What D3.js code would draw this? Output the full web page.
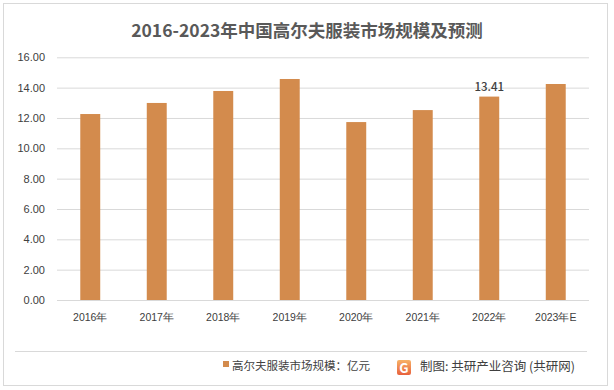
<!DOCTYPE html>
<html><head><meta charset="utf-8">
<script src="https://cdn.jsdelivr.net/npm/d3@7"></script>
<style>body{margin:0;background:#fff;} svg{display:block;font-family:"Noto Sans CJK SC","Noto Sans",sans-serif;}</style>
</head><body>
<svg id="c" width="614" height="390"></svg>
<script>
const categories = ["2016年","2017年","2018年","2019年","2020年","2021年","2022年","2023年E"];
const values = [12.26, 12.99, 13.78, 14.57, 11.73, 12.52, 13.41, 14.24];
const yTicks = [0,2,4,6,8,10,12,14,16];
const labeledIndex = [6];
const title = "2016-2023年中国高尔夫服装市场规模及预测";
const legendLabel = "高尔夫服装市场规模：亿元";
const sourceLabel = "制图: 共研产业咨询 (共研网)";

const svg = d3.select("#c");
const x = d3.scaleBand().domain(categories).range([57, 589]).paddingInner(0.7).paddingOuter(0.35);
const y = d3.scaleLinear().domain([0,16]).range([300, 57.3]);

// frame
svg.append("rect").attr("x",3.5).attr("y",3.5).attr("width",604).attr("height",382)
  .attr("fill","#fff").attr("stroke","#d9d9d9").attr("stroke-width",1);

// title
svg.append("text").attr("x",307).attr("y",37).attr("text-anchor","middle")
  .attr("font-size",17.5).attr("font-weight","bold").attr("fill","#595959").text(title);

// grid
const yAxis = d3.axisLeft(y).tickValues(yTicks).tickFormat(d3.format(".2f")).tickSize(-(589-57)).tickPadding(12);
const gy = svg.append("g").attr("transform","translate(57,0)").call(yAxis);
gy.select(".domain").remove();
gy.selectAll(".tick line").attr("stroke","#d9d9d9").attr("stroke-width",1);
gy.selectAll(".tick text").attr("fill","#404040").attr("font-size",11).attr("font-weight",500).attr("font-family","inherit");

// bars
svg.append("g").selectAll("rect").data(values).join("rect")
  .attr("x",(d,i)=>x(categories[i])).attr("width",x.bandwidth())
  .attr("y",d=>y(d)).attr("height",d=>y(0)-y(d)).attr("fill","#D38B4D");

// x axis
const xAxis = d3.axisBottom(x).tickSize(0).tickPadding(14);
const gx = svg.append("g").attr("transform","translate(0,300)").call(xAxis);
gx.select(".domain").remove();
gx.selectAll(".tick text").attr("fill","#404040").attr("font-size",10.5).attr("font-weight",500).attr("font-family","inherit");

// data label
svg.append("g").selectAll("text").data(labeledIndex).join("text")
  .attr("x",i=>x(categories[i])+x.bandwidth()/2).attr("y",i=>y(values[i])-6)
  .attr("text-anchor","middle").attr("font-size",11.5).attr("font-weight",500).attr("fill","#404040").text(i=>values[i].toFixed(2));

// legend separator
svg.append("line").attr("x1",15).attr("x2",587).attr("y1",351.5).attr("y2",351.5).attr("stroke","#d9d9d9");

// legend
svg.append("rect").attr("x",223).attr("y",361).attr("width",6).attr("height",6).attr("fill","#D38B4D");
svg.append("text").attr("x",232).attr("y",369.5).attr("font-size",11.5).attr("fill","#404040").text(legendLabel);

// logo
const lg = svg.append("g").attr("transform","translate(397,360)");
const grad = svg.append("defs").append("linearGradient").attr("id","lg").attr("x1",0).attr("y1",0).attr("x2",0).attr("y2",1);
grad.append("stop").attr("offset","0").attr("stop-color","#f7b267");
grad.append("stop").attr("offset","1").attr("stop-color","#e8613c");
lg.append("rect").attr("x",0).attr("y",0).attr("width",14).attr("height",15).attr("rx",2).attr("fill","url(#lg)");
lg.append("text").attr("x",7).attr("y",12.5).attr("text-anchor","middle").attr("font-size",13).attr("font-weight","bold").attr("fill","#fff").text("G");
svg.append("text").attr("x",420).attr("y",371).attr("font-size",12.5).attr("fill","#404040").text(sourceLabel);
</script>
</body></html>
